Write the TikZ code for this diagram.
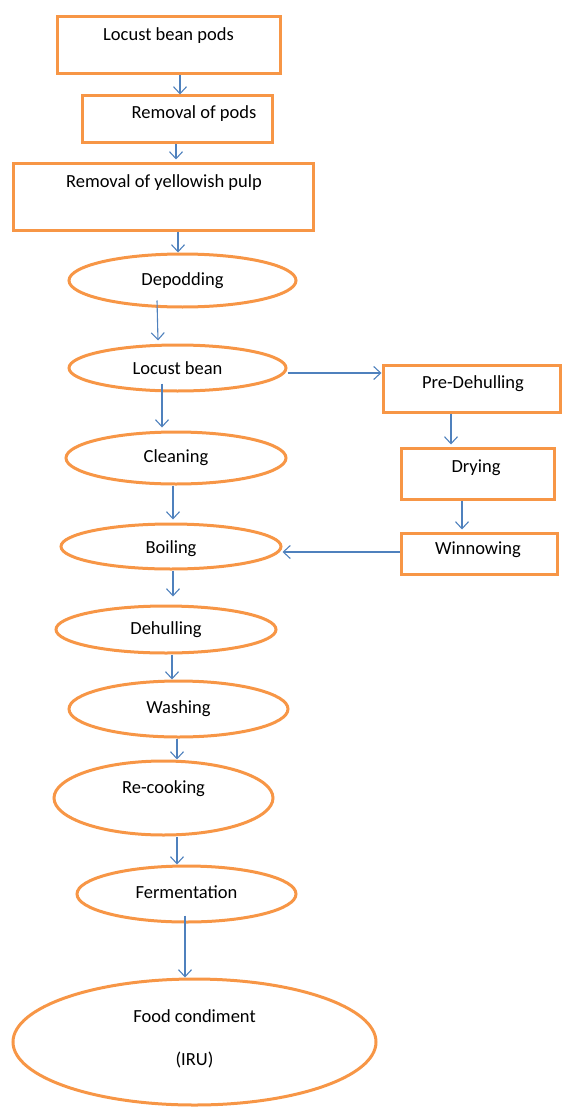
\documentclass[tikz,border=0pt]{standalone}
\usepackage{fontspec}
\setmainfont{Carlito}
\usepackage{tikz}
\usetikzlibrary{arrows.meta,shapes.geometric}
\definecolor{step_orange}{HTML}{F79646}
\definecolor{flow_blue}{HTML}{4F81BD}

\begin{document}
\begin{tikzpicture}[x=1pt, y=-1pt,
    font=\fontsize{18.5}{22}\selectfont,
    procbox/.style={draw=step_orange, line width=3pt, rectangle, inner sep=0pt},
    procell/.style={draw=step_orange, line width=3pt, ellipse, inner sep=0pt},
    flow/.style={flow_blue, line width=1.1pt, -{Straight Barb[length=7pt,width=13pt]}}]
    \useasboundingbox (0,0) rectangle (562,1110);
    % main column
    \node [procbox, minimum width=223pt, minimum height=57pt, label={[yshift=9.5pt]center:Locust bean pods}] (pods) at (168.5,45.5) {};
    \node [procbox, minimum width=190pt, minimum height=47pt, label={[xshift=17pt,yshift=5.5pt]center:Removal of pods}] (rempods) at (177,119.5) {};
    \node [procbox, minimum width=300pt, minimum height=66pt, label={[xshift=1pt,yshift=14pt]center:Removal of yellowish pulp}] (pulp) at (163,197) {};
    \node [procell, minimum width=227pt, minimum height=53pt, label=center:Depodding] (depod) at (182.5,280.5) {};
    \node [procell, minimum width=217pt, minimum height=46pt, label=center:Locust bean] (bean) at (177.5,368) {};
    \node [procell, minimum width=220pt, minimum height=52pt, label=center:Cleaning] (clean) at (176,458) {};
    \node [procell, minimum width=220pt, minimum height=45pt, label={[yshift=-2.5pt]center:Boiling}] (boil) at (171,546.5) {};
    \node [procell, minimum width=220pt, minimum height=47pt, label=center:Dehulling] (dehull) at (166,629.5) {};
    \node [procell, minimum width=219pt, minimum height=56pt, label=center:Washing] (wash) at (178.5,709) {};
    \node [procell, minimum width=219pt, minimum height=74pt, label={[yshift=9pt]center:Re-cooking}] (recook) at (163.5,798) {};
    \node [procell, minimum width=219pt, minimum height=56pt, label={[yshift=2pt]center:Fermentation}] (ferment) at (186.5,894) {};
    \node [procell, minimum width=363pt, minimum height=126pt, label={[align=center,yshift=3.5pt]center:Food condiment\\[21pt](IRU)}] (food) at (194.5,1042) {};
    % side branch
    \node [procbox, minimum width=177pt, minimum height=47pt, label={[xshift=1.5pt,yshift=4.5pt]center:Pre-Dehulling}] (predehull) at (471.5,388.5) {};
    \node [procbox, minimum width=153pt, minimum height=51pt, label={[xshift=-1.5pt,yshift=5.5pt]center:Drying}] (dry) at (477.5,473.5) {};
    \node [procbox, minimum width=156pt, minimum height=41pt, label={[xshift=-1pt,yshift=3.5pt]center:Winnowing}] (winnow) at (479,553.5) {};

    \draw [flow] ([xshift=11.5pt]pods.south) -- ([xshift=3pt]rempods.north);
    \draw [flow] ([xshift=-1pt]rempods.south) -- ([xshift=13pt,yshift=3pt]pulp.north);
    \draw [flow] ([xshift=15pt]pulp.south) -- ([xshift=-4.5pt]depod.north);
    \draw [flow] ([xshift=-25.5pt,yshift=8pt]depod.south) -- ([xshift=-19.5pt,yshift=3pt]bean.north);
    \draw [flow] ([xshift=-15.5pt,yshift=9pt]bean.south) -- ([xshift=-14pt,yshift=3pt]clean.north);
    \draw [flow] ([yshift=-5pt]bean.east) -- ([yshift=-5pt]bean.east -| predehull.west);
    \draw [flow] ([xshift=-20.5pt]predehull.south) -- ([xshift=-26.5pt,yshift=2pt]dry.north);
    \draw [flow] ([xshift=-15.5pt]dry.south) -- ([xshift=-17pt,yshift=2pt]winnow.north);
    \draw [flow] ([yshift=1.5pt]winnow.west) -- ([yshift=1.5pt]winnow.west -| boil.east);
    \draw [flow] ([xshift=-3pt]clean.south) -- ([xshift=2pt,yshift=3pt]boil.north);
    \draw [flow] ([xshift=2pt]boil.south) -- ([xshift=7pt,yshift=8pt]dehull.north);
    \draw [flow] ([xshift=6pt]dehull.south) -- ([xshift=-6.5pt]wash.north);
    \draw [flow] ([xshift=-1.5pt]wash.south) -- ([xshift=13.5pt]recook.north);
    \draw [flow] ([xshift=13.5pt]recook.south) -- ([xshift=-9.5pt]ferment.north);
    \draw [flow] ([xshift=-1.5pt,yshift=8pt]ferment.south) -- ([xshift=-9.5pt]food.north);
\end{tikzpicture}
\end{document}
